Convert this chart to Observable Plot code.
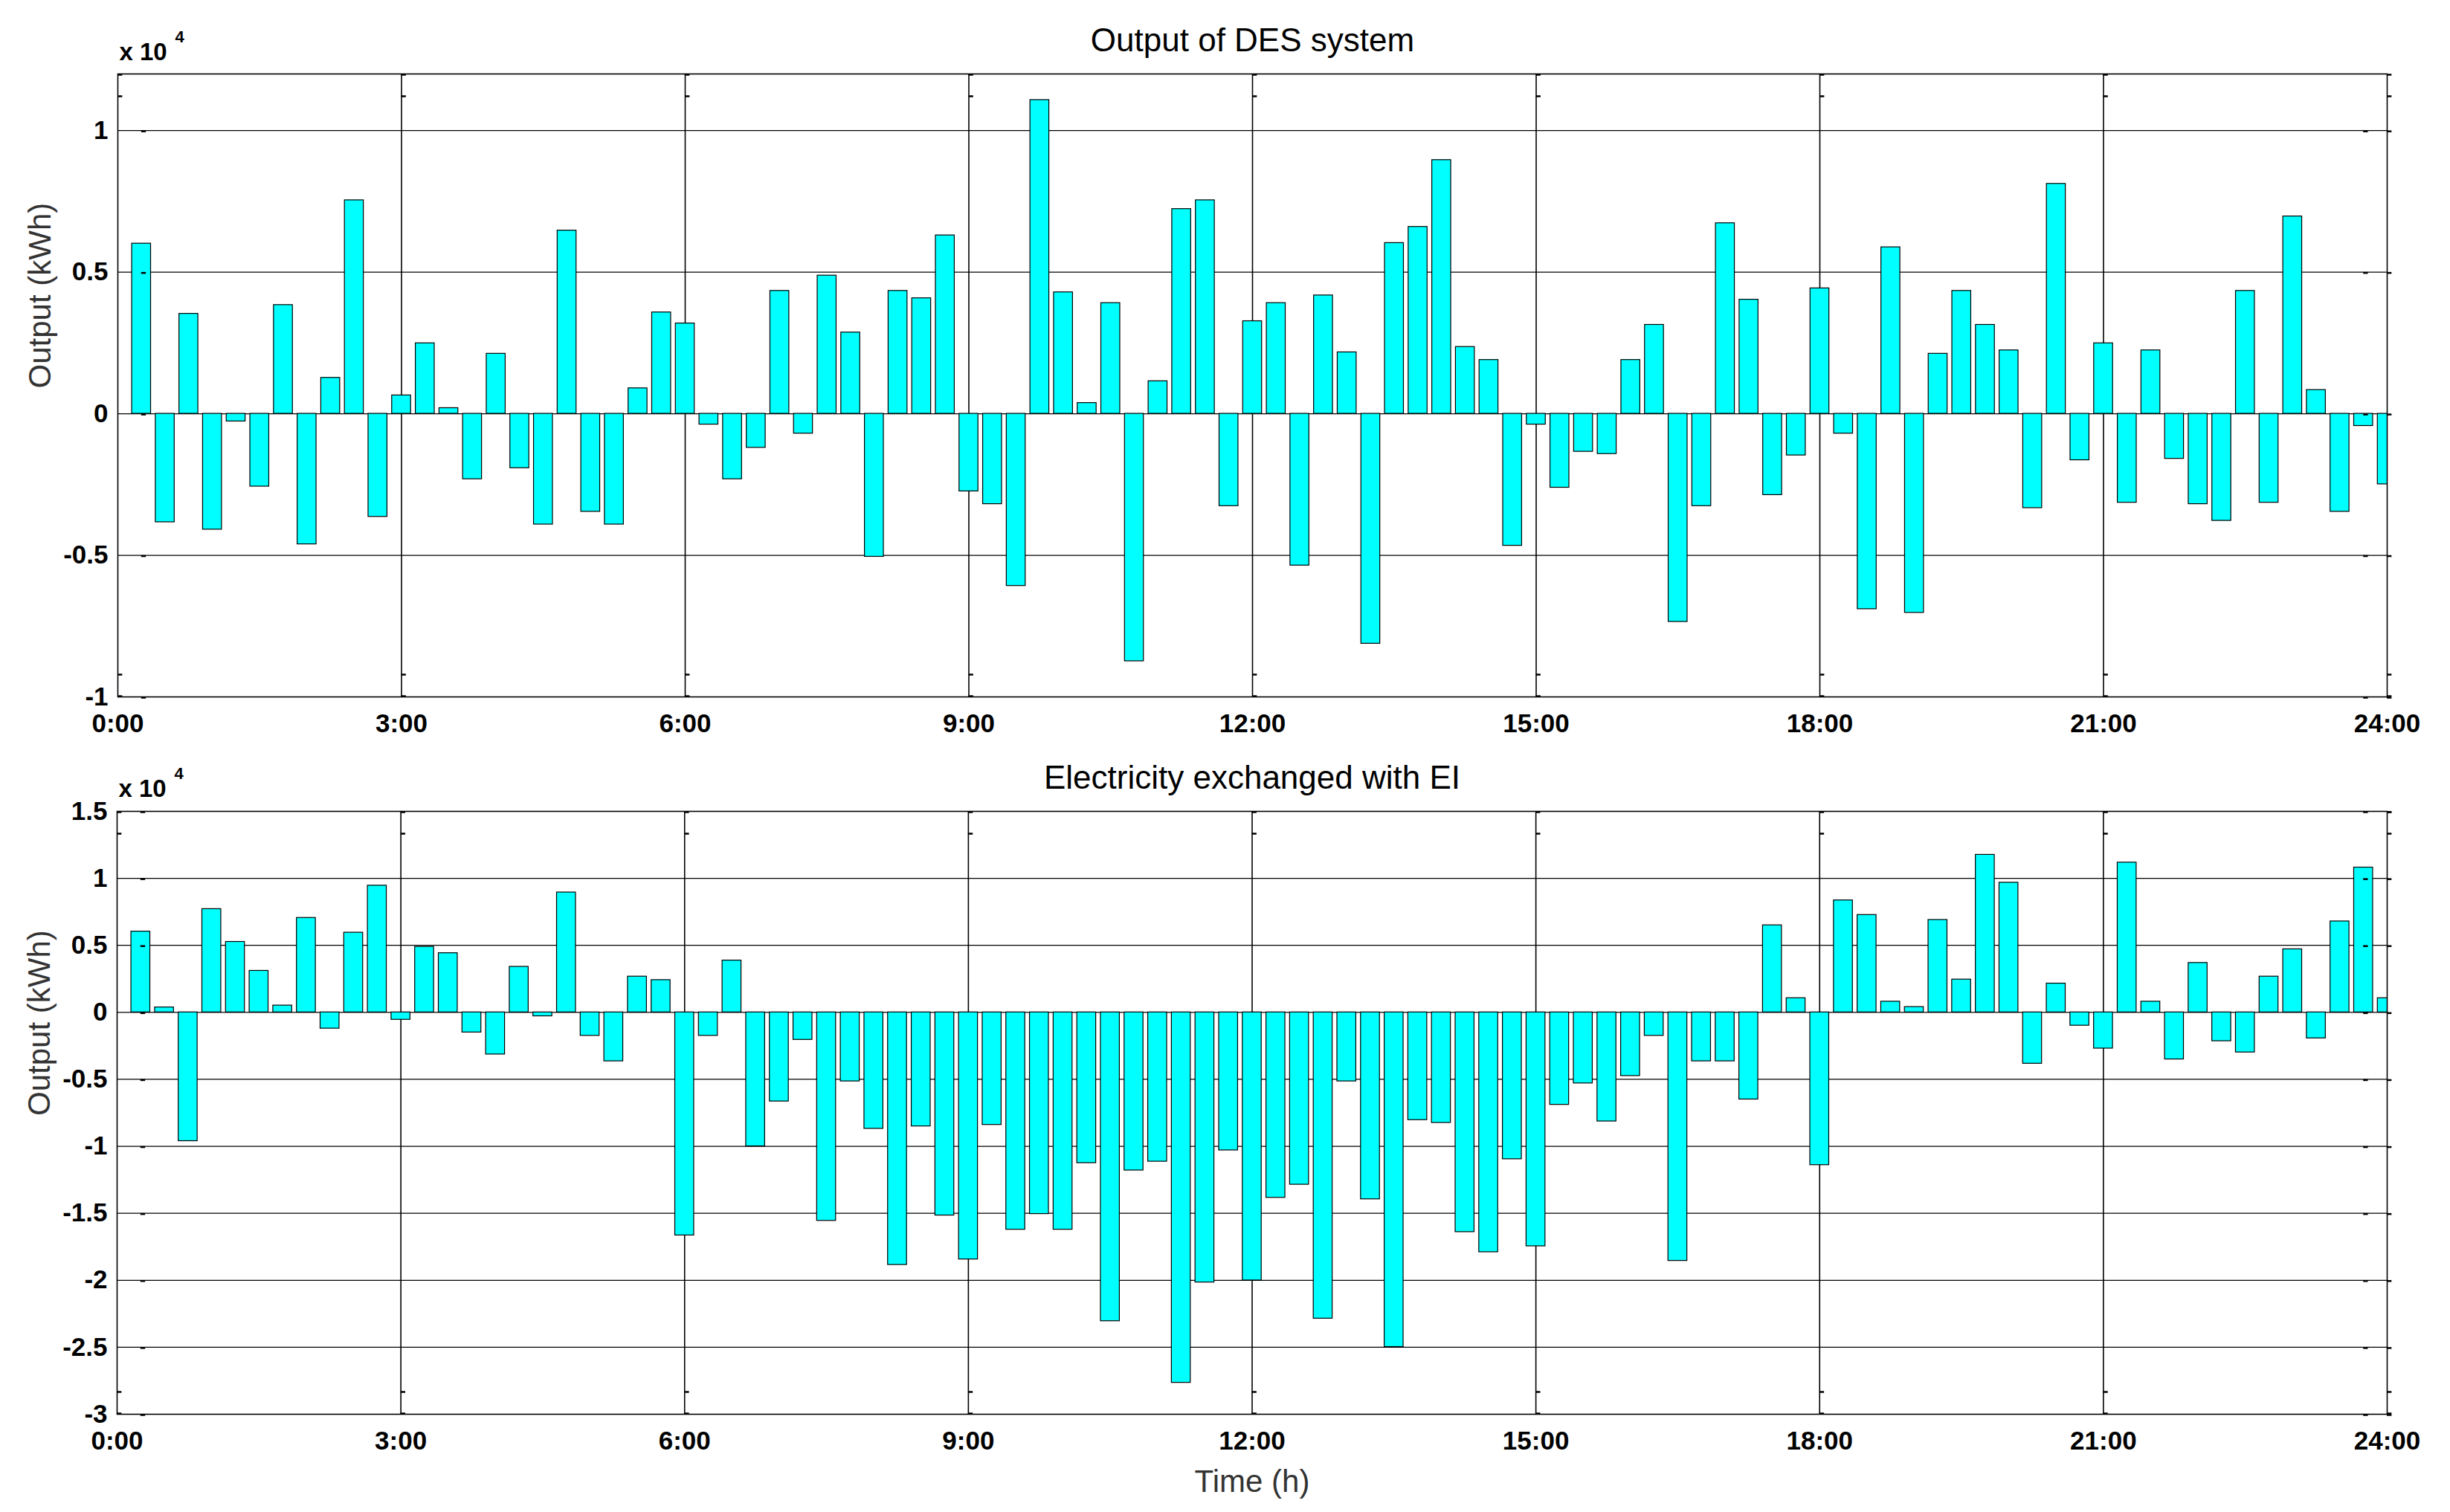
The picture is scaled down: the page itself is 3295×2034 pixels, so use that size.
<!DOCTYPE html>
<html>
<head>
<meta charset="utf-8">
<script src="https://cdn.jsdelivr.net/npm/d3@7"></script>
<script src="https://cdn.jsdelivr.net/npm/@observablehq/plot@0.6"></script>
<style>
  html, body { margin: 0; padding: 0; background: #ffffff; }
  #chart svg { display: block; }
  #chart g[aria-label="x-axis tick label"] text,
  #chart g[aria-label="y-axis tick label"] text { font-weight: bold; }
</style>
</head>
<body>
<div id="chart"></div>
<script>
// ---- data (kWh), one value per 15-minute slot, slot k ends at k*0.25 h ----
const slotCount = 96;
const slotHours = d3.range(1, slotCount + 1).map(k => k * 0.25);

const desOutput = [
  6010, -3830, 3530, -4090, -270, -2570, 3840, -4610, 1270, 7540, -3640, 650,
  2490, 200, -2310, 2120, -1920, -3910, 6470, -3460, -3910, 900, 3580, 3190,
  -380, -2310, -1200, 4340, -700, 4880, 2870, -5050, 4340, 4080, 6300, -2740,
  -3190, -6080, 11080, 4290, 380, 3910, -8740, 1150, 7230, 7540, -3260, 3270,
  3910, -5360, 4180, 2170, -8120, 6030, 6600, 8960, 2360, 1900, -4660, -380,
  -2610, -1340, -1420, 1900, 3140, -7350, -3260, 6730, 4030, -2870, -1470, 4430,
  -700, -6900, 5880, -7030, 2120, 4340, 3140, 2240, -3330, 8120, -1640, 2490,
  -3140, 2240, -1590, -3190, -3780, 4340, -3140, 6970, 840, -3460, -430, -2490
];

const eiExchange = [
  6030, 370, -9610, 7710, 5260, 3100, 510, 7050, -1210, 5950, 9460, -550,
  4890, 4420, -1500, -3140, 3400, -290, 8950, -1750, -3650, 2670, 2410, -16650,
  -1750, 3870, -10000, -6650, -2050, -15560, -5150, -8690, -18850, -8510, -15160, -18440,
  -8400, -16220, -15050, -16220, -11250, -23050, -11800, -11140, -27650, -20160, -10300, -20010,
  -13840, -12860, -22860, -5150, -13950, -24980, -8040, -8250, -16400, -17900, -10960, -17460,
  -6900, -5300, -8140, -4750, -1750, -18550, -3650, -3650, -6500, 6500, 1060, -11400,
  8360, 7270, 800, 400, 6900, 2450, 11760, 9680, -3830, 2150, -990, -2700,
  11180, 800, -3510, 3690, -2150, -2990, 2670, 4710, -1940, 6790, 10810, 1060
];

const xTickValues = [0, 3, 6, 9, 12, 15, 18, 21, 24];
const xTickLabels = ["0:00", "3:00", "6:00", "9:00", "12:00", "15:00", "18:00", "21:00", "24:00"];

const topTitle = "Output of DES system";
const topYDomain = [-10000, 12000];
const topYTicks = [-10000, -5000, 0, 5000, 10000];

const bottomTitle = "Electricity exchanged with EI";
const bottomYDomain = [-30000, 15000];
const bottomYTicks = [-30000, -25000, -20000, -15000, -10000, -5000, 0, 5000, 10000, 15000];

const yLabel = "Output (kWh)";
const xLabel = "Time (h)";
const multiplierBase = "x 10";
const multiplierExp = "4";

const fontFamily = "'Liberation Sans', Arial, Helvetica, sans-serif";
const barWidthHours = 0.2;

function panel(opts) {
  const rows = slotHours.map((t, i) => ({t, v: opts.values[i]}));
  const yTop = opts.yDomain[1], yBot = opts.yDomain[0];
  const marks = [
    Plot.gridY(opts.yTicks, {stroke: "black", strokeOpacity: 1, strokeWidth: 1.2}),
    Plot.gridX(xTickValues.slice(1, -1), {stroke: "black", strokeOpacity: 1, strokeWidth: 1.6}),
    Plot.rect(rows, {
      x1: d => d.t - barWidthHours / 2,
      x2: d => d.t + barWidthHours / 2,
      y1: 0,
      y2: d => d.v,
      fill: "#00ffff",
      stroke: "black",
      strokeWidth: 1.2,
      clip: true
    }),
    Plot.frame({stroke: "black", strokeWidth: 1.6}),
    // small tick dashes (MATLAB style)
    Plot.ruleY(opts.yTicks, {x1: 0.25, x2: 0.30, stroke: "black", strokeWidth: 2.5, dy: 1}),
    Plot.ruleY(opts.yTicks, {x1: 23.75, x2: 23.80, stroke: "black", strokeWidth: 2.5, dy: 1}),
    Plot.ruleY(opts.yTicks, {x1: 24.0, x2: 24.05, stroke: "black", strokeWidth: 2.5, dy: 1}),
    Plot.ruleY(xTickValues, {y: yTop, x1: d => d, x2: d => d + 0.05, dy: 30, stroke: "black", strokeWidth: 2.5}),
    Plot.ruleY(xTickValues, {y: yBot, x1: d => d, x2: d => d + 0.05, dy: -30, stroke: "black", strokeWidth: 2.5}),
    Plot.ruleY(xTickValues, {y: yTop, x1: d => d, x2: d => d + 0.05, dy: 1, stroke: "black", strokeWidth: 2.5}),
    Plot.ruleY(xTickValues, {y: yBot, x1: d => d, x2: d => d + 0.05, dy: -1, stroke: "black", strokeWidth: 2.5}),
    Plot.axisX({
      ticks: xTickValues,
      tickFormat: d => xTickLabels[xTickValues.indexOf(d)],
      tickSize: 0,
      tickPadding: 23,
      fontSize: 35,
      fontWeight: "bold",
      fill: "black",
      label: null
    }),
    Plot.axisY({
      ticks: opts.yTicks,
      tickFormat: d => String(d / 1e4),
      tickSize: 0,
      tickPadding: 13,
      fontSize: 35,
      fontWeight: "bold",
      fill: "black",
      label: null
    }),
    Plot.text([opts.title], {frameAnchor: "top", lineAnchor: "middle", dy: opts.titleDy, text: d => d, fontSize: 44, fill: "black"}),
    Plot.text([multiplierBase], {frameAnchor: "top-left", lineAnchor: "middle", textAnchor: "start", dx: 2, dy: opts.multDy, text: d => d, fontSize: 33, fontWeight: "bold", fill: "black"}),
    Plot.text([multiplierExp], {frameAnchor: "top-left", lineAnchor: "middle", textAnchor: "start", dx: 77, dy: opts.multDy - 21, text: d => d, fontSize: 22, fontWeight: "bold", fill: "black"}),
    Plot.text([yLabel], {frameAnchor: "left", lineAnchor: "middle", dx: -104, dy: 4, rotate: -90, text: d => d, fontSize: 42, fill: "#333333"})
  ];
  if (opts.xlabel) {
    marks.push(Plot.text([opts.xlabel], {frameAnchor: "bottom", lineAnchor: "middle", dy: 91, text: d => d, fontSize: 42, fill: "#333333"}));
  }
  return Plot.plot({
    width: 3295,
    height: opts.height,
    marginTop: opts.marginTop,
    marginBottom: opts.marginBottom,
    marginLeft: opts.marginLeft,
    marginRight: 85,
    style: {background: "white", fontFamily, overflow: "visible"},
    x: {domain: [0, 24], axis: null},
    y: {domain: opts.yDomain, axis: null},
    marks
  });
}

const chart = document.getElementById("chart");
chart.append(panel({
  values: desOutput, title: topTitle, yDomain: topYDomain, yTicks: topYTicks,
  height: 1000, marginTop: 99, marginBottom: 63, marginLeft: 158,
  titleDy: -45, multDy: -29
}));
chart.append(panel({
  values: eiExchange, title: bottomTitle, yDomain: bottomYDomain, yTicks: bottomYTicks,
  height: 1034, marginTop: 91, marginBottom: 132, marginLeft: 157,
  titleDy: -45, multDy: -30, xlabel: xLabel
}));
</script>
</body>
</html>
